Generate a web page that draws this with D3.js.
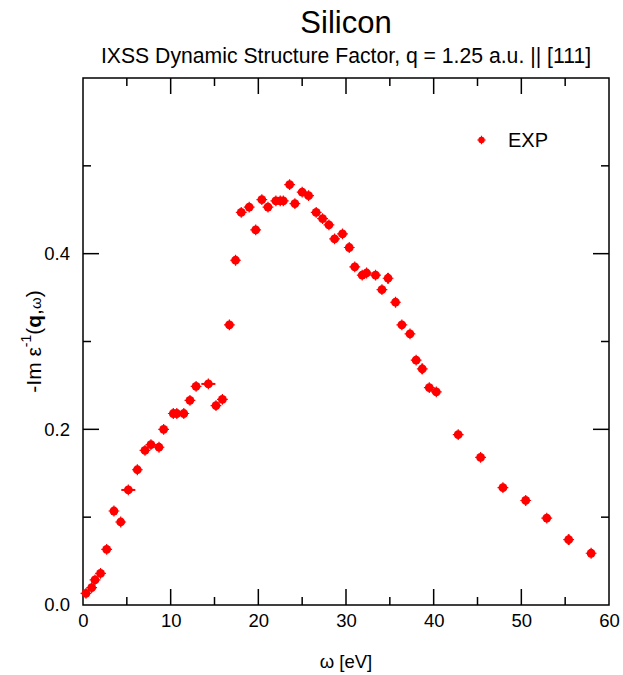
<!DOCTYPE html>
<html>
<head>
<meta charset="utf-8">
<script src="https://cdn.jsdelivr.net/npm/d3@7"></script>
<style>
  html, body { margin: 0; padding: 0; background: #fff; }
  text { font-family: "Liberation Sans", Arial, Helvetica, sans-serif; fill: #000; }
</style>
</head>
<body>
<svg id="chart" width="623" height="675"></svg>
<script>
// ---- data ----
const omega = [0.34, 0.99, 1.37, 2.0, 2.7, 3.53, 4.3, 5.17, 6.2, 7.07, 7.75, 8.67, 9.2,
  10.3, 10.7, 11.5, 12.2, 12.9, 14.3, 15.17, 15.9, 16.7, 17.4, 18.05, 18.96, 19.7, 20.4,
  21.1, 22.0, 22.5, 22.85, 23.57, 24.17, 25.0, 25.73, 26.6, 27.33, 28.05, 28.7, 29.6,
  30.37, 31.0, 31.85, 32.35, 33.37, 34.1, 34.8, 35.65, 36.37, 37.3, 38.0, 38.7, 39.5,
  40.3, 42.8, 45.35, 47.9, 50.5, 52.9, 55.4, 57.96];
const lossFn = [0.0133, 0.0197, 0.0285, 0.036, 0.0634, 0.107, 0.0945, 0.131, 0.154, 0.176,
  0.1826, 0.1796, 0.2, 0.218, 0.218, 0.218, 0.233, 0.249, 0.2517, 0.227, 0.234, 0.319,
  0.3925, 0.447, 0.453, 0.427, 0.4616, 0.453, 0.46, 0.46, 0.46, 0.4787, 0.457, 0.47, 0.466,
  0.447, 0.44, 0.4328, 0.4168, 0.4225, 0.407, 0.385, 0.3755, 0.378, 0.3755, 0.359, 0.372,
  0.3447, 0.319, 0.3087, 0.2787, 0.2688, 0.2475, 0.2426, 0.194, 0.168, 0.1336, 0.119,
  0.099, 0.0744, 0.0589];
// error half-widths (eV) and half-heights, zero where the bar hides under the marker
const omegaErr = omega.map(() => 0);
const lossErr = omega.map(() => 0);
omegaErr[7] = 0.8; omegaErr[18] = 0.8; omegaErr[33] = 0.45; omegaErr[41] = 0.45;
lossErr[46] = 0.006; lossErr[51] = 0.006; lossErr[59] = 0.006;

const xTicks = [0, 10, 20, 30, 40, 50, 60];
const yTicks = [0.0, 0.2, 0.4];
const titleText = "Silicon";
const subtitleText = "IXSS Dynamic Structure Factor, q = 1.25 a.u. || [111]";
const legendLabel = "EXP";

// ---- layout ----
const svg = d3.select("#chart");
const L = 83, R = 609, T = 78, B = 605;
const x = d3.scaleLinear().domain([0, 60]).range([L, R]);
const y = d3.scaleLinear().domain([0, 0.6]).range([B, T]);
const red = "#ff0000";

// titles
svg.append("text").attr("x", (L + R) / 2).attr("y", 33).attr("text-anchor", "middle")
  .attr("font-size", 31).text(titleText);
svg.append("text").attr("x", (L + R) / 2).attr("y", 63).attr("text-anchor", "middle")
  .attr("font-size", 21.2).text(subtitleText);

// frame
svg.append("rect").attr("x", L).attr("y", T).attr("width", R - L).attr("height", B - T)
  .attr("fill", "none").attr("stroke", "#000").attr("stroke-width", 1.5);

// axes (ticks inward)
const xMajor = d3.range(0, 61, 10), xMinor = d3.range(5, 60, 10);
const yMajor = [0.2, 0.4], yMinor = [0.1, 0.3, 0.5];
const tg = svg.append("g").attr("stroke", "#000").attr("stroke-width", 1.5);
function xt(vals, len) {
  vals.forEach(v => {
    tg.append("line").attr("x1", x(v)).attr("x2", x(v)).attr("y1", B).attr("y2", B - len);
    tg.append("line").attr("x1", x(v)).attr("x2", x(v)).attr("y1", T).attr("y2", T + len);
  });
}
function yt(vals, len) {
  vals.forEach(v => {
    tg.append("line").attr("y1", y(v)).attr("y2", y(v)).attr("x1", L).attr("x2", L + len);
    tg.append("line").attr("y1", y(v)).attr("y2", y(v)).attr("x1", R).attr("x2", R - len);
  });
}
xt(xMajor.filter(v => v > 0 && v < 60), 16); xt(xMinor, 8);
yt(yMajor, 16); yt(yMinor, 8);

// tick labels via d3 axes (lines hidden)
const xAxis = svg.append("g").attr("transform", `translate(0,${B})`)
  .call(d3.axisBottom(x).tickValues(xTicks).tickSize(0).tickPadding(9).tickFormat(d3.format("d")));
const yAxis = svg.append("g").attr("transform", `translate(${L},0)`)
  .call(d3.axisLeft(y).tickValues(yTicks).tickSize(0).tickPadding(13).tickFormat(d3.format(".1f")));
[xAxis, yAxis].forEach(a => {
  a.select(".domain").remove();
  a.selectAll("text").attr("font-size", 18.5).attr("font-family", "Liberation Sans, Arial, sans-serif").attr("fill", "#000");
});

// axis titles
svg.append("text").attr("x", (L + R) / 2).attr("y", 668).attr("text-anchor", "middle")
  .attr("font-size", 18.5).text("ω [eV]");
const yl = svg.append("text").attr("transform", `translate(41,${(T + B) / 2}) rotate(-90)`)
  .attr("text-anchor", "middle").attr("font-size", 21);
yl.append("tspan").text("-Im ε");
yl.append("tspan").attr("font-size", 14).attr("dy", -10).text("-1");
yl.append("tspan").attr("dy", 10).text("(");
yl.append("tspan").attr("font-weight", "bold").text("q");
yl.append("tspan").text(",");
yl.append("tspan").attr("font-size", 15).text("ω");
yl.append("tspan").text(")");

// error bars
const eg = svg.append("g").attr("stroke", red).attr("stroke-width", 2);
omega.forEach((w, i) => {
  if (omegaErr[i] > 0) eg.append("line").attr("x1", x(w - omegaErr[i])).attr("x2", x(w + omegaErr[i]))
    .attr("y1", y(lossFn[i])).attr("y2", y(lossFn[i]));
  if (lossErr[i] > 0) eg.append("line").attr("x1", x(w)).attr("x2", x(w))
    .attr("y1", y(lossFn[i] - lossErr[i])).attr("y2", y(lossFn[i] + lossErr[i]));
});

// markers
function marker(g, cx, cy, r) {
  g.append("circle").attr("cx", cx).attr("cy", cy).attr("r", r).attr("fill", red);
  g.append("path").attr("d", `M${cx - r - 1},${cy}H${cx + r + 1}M${cx},${cy - r - 1}V${cy + r + 1}`)
    .attr("stroke", red).attr("stroke-width", 1.2).attr("fill", "none");
}
const mg = svg.append("g");
omega.forEach((w, i) => marker(mg, x(w), y(lossFn[i]), 4.4));

// legend
marker(svg.append("g"), 481.5, 140, 3.2);
svg.append("text").attr("x", 508).attr("y", 147).attr("font-size", 20).text(legendLabel);
</script>
</body>
</html>
